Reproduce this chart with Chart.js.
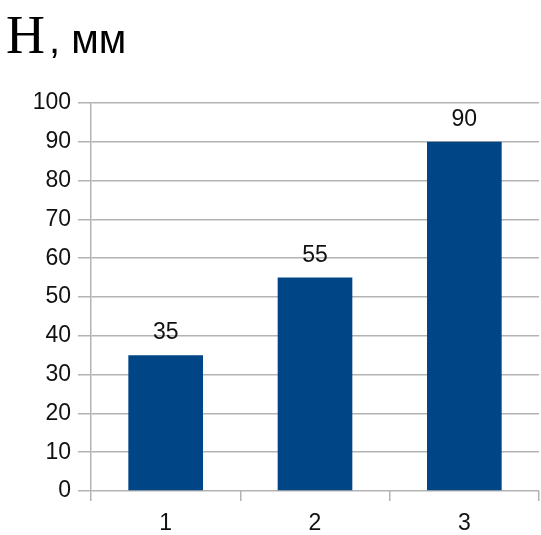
<!DOCTYPE html>
<html>
<head>
<meta charset="utf-8">
<script src="https://cdn.jsdelivr.net/npm/chart.js@4"></script>
<style>
  html, body { margin: 0; padding: 0; background: #fff; }
  #wrap { position: relative; width: 541px; height: 535px; }
</style>
</head>
<body>
<div id="wrap"><canvas id="c" width="541" height="535"></canvas></div>
<script>
// Chart data
const categories = ['1', '2', '3'];
const heights = [35, 55, 90];
const yTicks = [0, 10, 20, 30, 40, 50, 60, 70, 80, 90, 100];

const titleMain = 'H';
const titleUnit = ', мм';

const gridColor = '#b3b3b3';
const textColor = '#111111';
const barColor = '#004586';
const tickFont = { family: '"Liberation Sans", Arial, sans-serif', size: 23 };

// Title drawn in two fonts: serif letter, sans unit
const titlePlugin = {
  id: 'mixedTitle',
  afterDraw(chart) {
    const ctx = chart.ctx;
    ctx.save();
    ctx.fillStyle = '#000';
    ctx.textBaseline = 'alphabetic';
    ctx.textAlign = 'left';
    ctx.font = '54px "Liberation Serif", "Times New Roman", serif';
    ctx.fillText(titleMain, 6, 53);
    const w = ctx.measureText(titleMain).width;
    ctx.font = '40px "Liberation Sans", Arial, sans-serif';
    ctx.fillText(titleUnit, 6 + w + 4, 53);
    ctx.restore();
  }
};

// Value labels above each bar
const valueLabels = {
  id: 'valueLabels',
  afterDatasetsDraw(chart) {
    const ctx = chart.ctx;
    const meta = chart.getDatasetMeta(0);
    ctx.save();
    ctx.fillStyle = textColor;
    ctx.font = '23px "Liberation Sans", Arial, sans-serif';
    ctx.textAlign = 'center';
    ctx.textBaseline = 'alphabetic';
    meta.data.forEach((bar, i) => {
      ctx.fillText(String(heights[i]), bar.x, bar.y - 16);
    });
    ctx.restore();
  }
};

new Chart(document.getElementById('c'), {
  type: 'bar',
  data: {
    labels: categories,
    datasets: [{
      data: heights,
      backgroundColor: barColor,
      borderWidth: 0,
      barPercentage: 0.5,
      categoryPercentage: 1.0
    }]
  },
  options: {
    responsive: false,
    animation: false,
    devicePixelRatio: 1,
    layout: { padding: { top: 103, right: 2, left: 0, bottom: 0 } },
    plugins: {
      legend: { display: false },
      tooltip: { enabled: false },
      title: { display: false }
    },
    scales: {
      x: {
        offset: true,
        grid: {
          offset: true,
          drawOnChartArea: false,
          drawTicks: true,
          tickLength: 10,
          color: gridColor,
          lineWidth: 1.5
        },
        border: { display: false },
        ticks: { color: textColor, font: tickFont, padding: 9 },
        afterFit(scale) { scale.height = 44; }
      },
      y: {
        min: 0,
        max: 100,
        afterBuildTicks(scale) { scale.ticks = yTicks.map(v => ({ value: v })); },
        grid: {
          color: gridColor,
          lineWidth: 1.5,
          tickLength: 13
        },
        border: { color: gridColor, width: 1.5 },
        ticks: { color: textColor, font: tickFont, padding: 7 },
        afterFit(scale) { scale.width = 91; }
      }
    }
  },
  plugins: [titlePlugin, valueLabels]
});
</script>
</body>
</html>
